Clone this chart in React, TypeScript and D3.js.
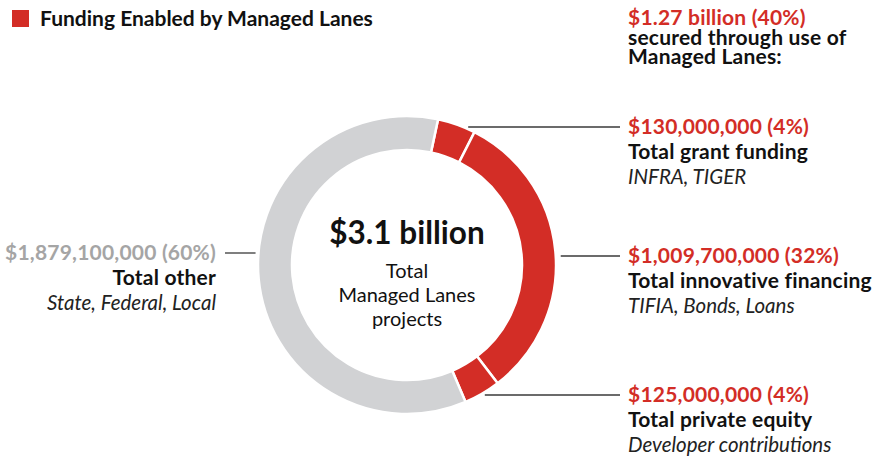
import * as d3 from 'd3';

const categories = ['Total grant funding', 'Total innovative financing', 'Total private equity', 'Total other'];
const amounts = [130000000, 1009700000, 125000000, 1879100000];
const percents = [4, 32, 4, 60];
const sources = ['INFRA, TIGER', 'TIFIA, Bonds, Loans', 'Developer contributions', 'State, Federal, Local'];
const managed = [true, true, true, false];

const legendLabel = 'Funding Enabled by Managed Lanes';
const headerLines = ['$1.27 billion (40%)', 'secured through use of', 'Managed Lanes:'];
const centerTitle = '$3.1 billion';
const centerLines = ['Total', 'Managed Lanes', 'projects'];

const W = 885;
const H = 457;
const cx = 407;
const cy = 265;
const outerR = 149;
const innerR = 115;
const RED = '#d32d26';
const GREY = '#d1d2d4';
const FONT = 'Lato, "Noto Sans", sans-serif';
const BOLD = { fontSize: 21, fontWeight: 700, letterSpacing: 0.2 };

// where each label block sits (first-line baseline), left blocks are right-aligned
const labelPos = [
  { x: 628, y: 134, side: 'right' },
  { x: 628, y: 263, side: 'right' },
  { x: 628, y: 402, side: 'right' },
  { x: 216, y: 260, side: 'left' },
];

const fmt = d3.format('$,');

export default function App() {
  const pie = d3
    .pie<number>()
    .sort(null)
    .value((d) => d)
    .startAngle(0.21)
    .endAngle(0.21 + Math.PI * 2);
  const arcs = pie(amounts);
  const arc = d3.arc<d3.PieArcDatum<number>>().innerRadius(innerR).outerRadius(outerR);

  return (
    <div style={{ position: 'absolute', left: 0, top: 0 }}>
      <svg width={W} height={H} style={{ display: 'block', fontFamily: FONT }}>
        <rect width={W} height={H} fill="#fff" />

        {/* legend */}
        <rect x={12} y={10} width={17} height={17} fill={RED} />
        <text x={40} y={26} {...BOLD} letterSpacing={0} fill="#111">
          {legendLabel}
        </text>

        {/* header on the right */}
        {headerLines.map((t, i) => (
          <text key={t} x={628} y={25 + i * 19.5} {...BOLD} fill={i === 0 ? RED : '#111'}>
            {t}
          </text>
        ))}

        {/* donut */}
        <g transform={`translate(${cx},${cy})`}>
          {arcs.map((a, i) => (
            <path
              key={categories[i]}
              d={arc(a) ?? ''}
              fill={managed[i] ? RED : GREY}
              stroke="#fff"
              strokeWidth={2.5}
            />
          ))}
        </g>

        {/* center text */}
        <text x={cx} y={244} textAnchor="middle" fontSize={31.5} fontWeight={700} fill="#111">
          {centerTitle}
        </text>
        {centerLines.map((t, i) => (
          <text key={t} x={cx} y={278 + i * 24} textAnchor="middle" fontSize={20} fill="#111">
            {t}
          </text>
        ))}

        {/* leader lines and labels */}
        {categories.map((c, i) => {
          const p = labelPos[i];
          const ly = p.y - 7;
          const dy = ly - cy;
          const dx = Math.sqrt(Math.max(0, outerR * outerR - dy * dy));
          const right = p.side === 'right';
          const x1 = right ? cx + dx + 5 : cx - dx - 3;
          const x2 = right ? p.x - 8 : p.x + 9;
          const anchor = right ? 'start' : 'end';
          return (
            <g key={c}>
              <line x1={x1} x2={x2} y1={ly} y2={ly} stroke="#3a3a3a" strokeWidth={1.3} />
              <text x={p.x} y={p.y} textAnchor={anchor} {...BOLD} fill={managed[i] ? RED : '#a5a5a5'}>
                {`${fmt(amounts[i])} (${percents[i]}%)`}
              </text>
              <text x={p.x} y={p.y + 25} textAnchor={anchor} {...BOLD} fill="#111">
                {c}
              </text>
              <text
                x={p.x}
                y={p.y + 50}
                textAnchor={anchor}
                fontSize={20.5}
                fontStyle="italic"
                fill="#222"
              >
                {sources[i]}
              </text>
            </g>
          );
        })}
      </svg>
    </div>
  );
}
